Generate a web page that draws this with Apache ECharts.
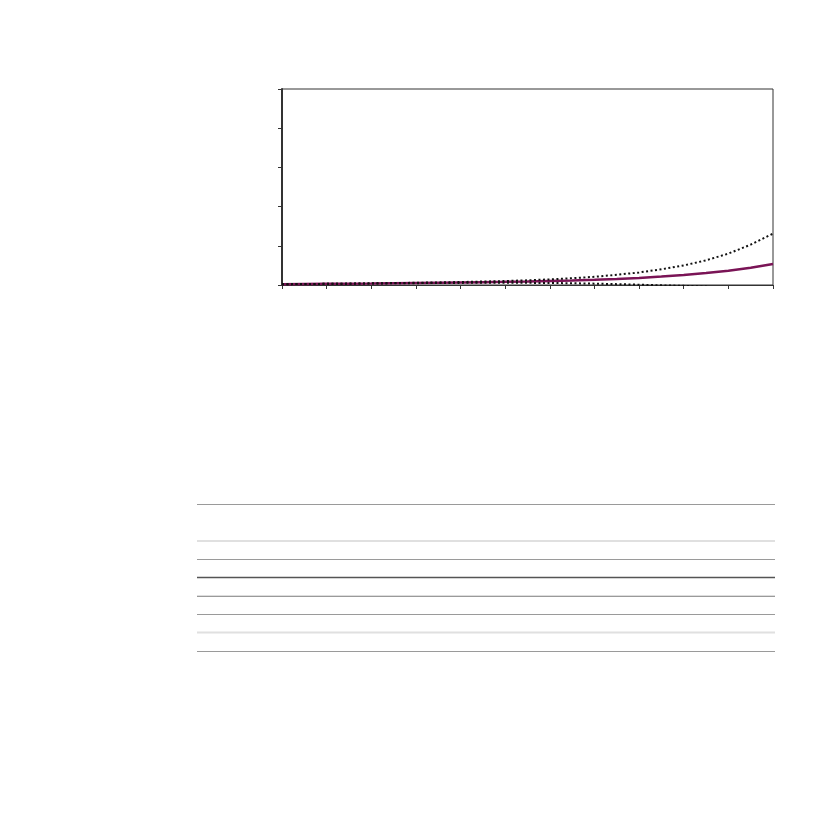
<!DOCTYPE html>
<html>
<head>
<meta charset="utf-8">
<script src="https://cdn.jsdelivr.net/npm/echarts@6/dist/echarts.min.js"></script>
<style>
  html, body { margin: 0; padding: 0; background: #fff; }
  #chart { width: 827px; height: 827px; }
</style>
</head>
<body>
<div id="chart"></div>
<script>
// x positions (one point every half tick)
const xValues = [0, 0.5, 1, 1.5, 2, 2.5, 3, 3.5, 4, 4.5, 5, 5.5, 6, 6.5, 7, 7.5, 8, 8.5, 9, 9.5, 10, 10.5, 11]
// central path
const midValues = [0.02, 0.025, 0.03, 0.035, 0.04, 0.046, 0.052, 0.058, 0.065, 0.073, 0.082, 0.092, 0.104, 0.117, 0.132, 0.153, 0.18, 0.215, 0.255, 0.305, 0.365, 0.44, 0.535]
// upper / lower bands (dotted)
const upperValues = [0.02, 0.025, 0.03, 0.036, 0.042, 0.049, 0.057, 0.066, 0.076, 0.088, 0.102, 0.12, 0.143, 0.172, 0.21, 0.26, 0.32, 0.4, 0.5, 0.63, 0.8, 1.03, 1.31]
const lowerValues = [0.02, 0.025, 0.03, 0.034, 0.038, 0.043, 0.047, 0.051, 0.054, 0.056, 0.057, 0.055, 0.051, 0.045, 0.035, 0.022, 0.008, -0.008, -0.022, -0.04, -0.12, -0.3, -0.5]

function pairs(ys) {
  return xValues.map((x, i) => [x, ys[i]])
}

// horizontal rules of the empty table below the chart
const tableRules = [
  { y: 504.5, color: '#9a9a9a', w: 1 },
  { y: 541, color: '#e0e0e0', w: 2 },
  { y: 559.5, color: '#9a9a9a', w: 1 },
  { y: 577.5, color: '#555555', w: 1.3 },
  { y: 595.5, color: '#dddddd', w: 1 },
  { y: 596.5, color: '#9a9a9a', w: 1 },
  { y: 614.5, color: '#9a9a9a', w: 1 },
  { y: 632.5, color: '#e0e0e0', w: 2 },
  { y: 651.5, color: '#9a9a9a', w: 1 }
]

const chart = echarts.init(document.getElementById('chart'), null, { renderer: 'canvas' })

const dotted = { color: '#111', width: 2, type: [2, 2.5], cap: 'butt' }

chart.setOption({
  animation: false,
  backgroundColor: '#fff',
  grid: {
    left: 282, top: 89, right: 54, bottom: 542,
    show: true, borderColor: '#333', borderWidth: 1, backgroundColor: 'transparent'
  },
  xAxis: {
    type: 'value', min: 0, max: 11, interval: 1,
    axisLine: { show: true, onZero: false, lineStyle: { color: '#333', width: 1 } },
    axisTick: { show: true, length: 4, lineStyle: { color: '#333', width: 1 } },
    axisLabel: { show: false },
    splitLine: { show: false }
  },
  yAxis: {
    type: 'value', min: 0, max: 5, interval: 1,
    axisLine: { show: true, lineStyle: { color: '#333', width: 2 } },
    axisTick: { show: true, length: 4, lineStyle: { color: '#333', width: 1 } },
    axisLabel: { show: false },
    splitLine: { show: false }
  },
  series: [
    {
      type: 'line', data: pairs(midValues), smooth: false, symbol: 'none', clip: true,
      lineStyle: { color: '#7a1456', width: 2.5 }
    },
    {
      type: 'line', data: pairs(upperValues), smooth: false, symbol: 'none', clip: true,
      lineStyle: dotted
    },
    {
      type: 'line', data: pairs(lowerValues), smooth: false, symbol: 'none', clip: true,
      lineStyle: dotted
    }
  ],
  graphic: tableRules.map(r => ({
    type: 'line',
    shape: { x1: 197, y1: r.y, x2: 775, y2: r.y },
    style: { stroke: r.color, lineWidth: r.w },
    silent: true
  }))
})
</script>
</body>
</html>
